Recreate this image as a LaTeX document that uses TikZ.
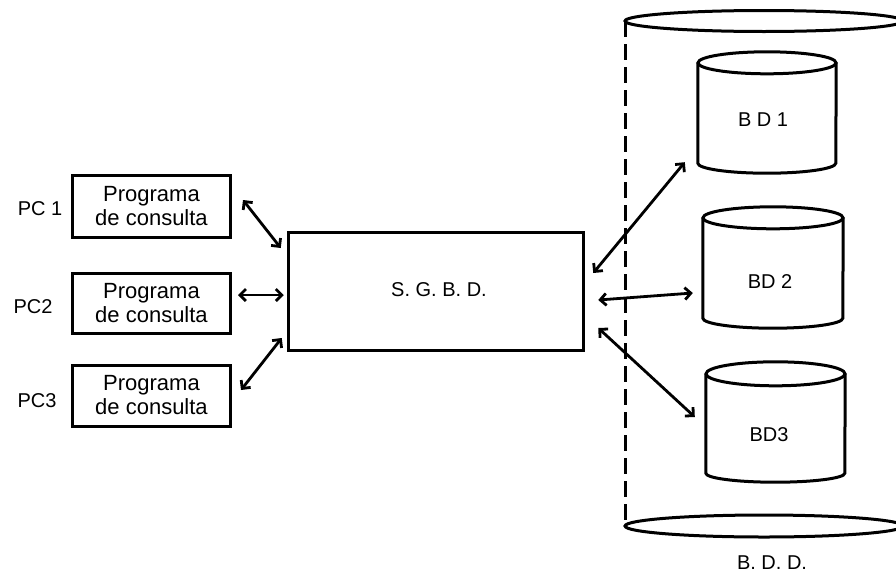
\documentclass[tikz,border=0pt]{standalone}
\usepackage{fontspec}
\setmainfont{Liberation Sans}
\usetikzlibrary{arrows.meta,calc}

\tikzset{
  box/.style={draw, line width=3pt, rectangle, inner sep=0pt, align=center,
    font=\fontsize{22}{24}\selectfont},
  lbl/.style={inner sep=0pt, font=\fontsize{20}{24}\selectfont},
  dbbody/.style={rectangle, inner sep=0pt},
  cylline/.style={line width=3pt},
  link/.style={line width=2.8pt, {Straight Barb[length=6pt,width=12pt]}-{Straight Barb[length=6pt,width=12pt]}},
  outerdash/.style={line width=3pt, dash pattern=on 16pt off 7pt},
}

% cylinder drawn on the body of a node: name, half width, top y radius, bottom y radius
\newcommand\dbcyl[4]{%
  \draw[cylline] (#1.north) ellipse[x radius=#2pt, y radius=#3pt];
  \draw[cylline] (#1.north west) -- ($(#1.south west)+(0,-#4)$)
    arc[start angle=180, end angle=360, x radius=#2pt, y radius=#4pt]
    -- (#1.north east);
}

\begin{document}
\begin{tikzpicture}[x=1pt, y=-1pt]
  % the page covers exactly the drawing area
  \useasboundingbox (0,0) rectangle (896,573);
  \clip (0,0) rectangle (896,573);
  \fill[white] (0,0) rectangle (896,573);

  % distributed database container
  \draw[cylline] (764,21) ellipse[x radius=139pt, y radius=10.5pt];
  \draw[cylline] (764,526) ellipse[x radius=139pt, y radius=11pt];
  \coordinate (bddtop) at (625,21);
  \coordinate (bddbot) at (625,526);
  \draw[outerdash] (bddtop) -- (bddbot);
  \node[lbl] (bdd) at (772,563) {B. D. D.};

  % client programs
  \node[box, minimum width=158pt, minimum height=62pt] (p1) at (151.5,206.5) {Programa\\de consulta};
  \node[box, minimum width=158pt, minimum height=60pt] (p2) at (151.5,303) {Programa\\de consulta};
  \node[box, minimum width=158pt, minimum height=61pt] (p3) at (151.5,395.5) {Programa\\de consulta};
  \node[lbl] (pc1) at (40,209) {PC 1};
  \node[lbl] (pc2) at (33,307) {PC2};
  \node[lbl] (pc3) at (37,401) {PC3};

  % management system
  \node[box, minimum width=295.5pt, minimum height=118.5pt] (sgbd) at (436,291.5) {};
  \node[lbl] (sgbdt) at (439,290) {S. G. B. D.};

  % local databases
  \node[dbbody, minimum width=138pt, minimum height=110pt] (bd1) at (767,118) {};
  \node[dbbody, minimum width=140pt, minimum height=110pt] (bd2) at (773,273) {};
  \node[dbbody, minimum width=139pt, minimum height=108pt] (bd3) at (775.5,428) {};
  \dbcyl{bd1}{69}{11}{10}
  \dbcyl{bd2}{70}{11}{10}
  \dbcyl{bd3}{69.5}{12}{9}
  \node[lbl] (bd1t) at (763,120) {B D 1};
  \node[lbl] (bd2t) at (770,282) {BD 2};
  \node[lbl] (bd3t) at (769,435) {BD3};

  % links between clients and the management system
  \draw[link] ($(p1.east)+(11,-6.5)$) -- ($(sgbd.west)+(-6,-43.5)$);
  \draw[link] ($(p2.east)+(6,-8)$) -- ($(sgbd.west)+(-3,3.5)$);
  \draw[link] ($(p3.east)+(9,-5.5)$) -- ($(sgbd.west)+(-5,46.5)$);

  % links between the management system and the databases
  \draw[link] ($(sgbd.east)+(8,-18.5)$) -- ($(bd1.south west)+(-13,-11)$);
  \draw[link] ($(sgbd.east)+(13,8.5)$) -- ($(bd2.west)+(-10,20)$);
  \draw[link] ($(sgbd.east)+(13,36.5)$) -- ($(bd3.west)+(-11,-11)$);
\end{tikzpicture}
\end{document}
